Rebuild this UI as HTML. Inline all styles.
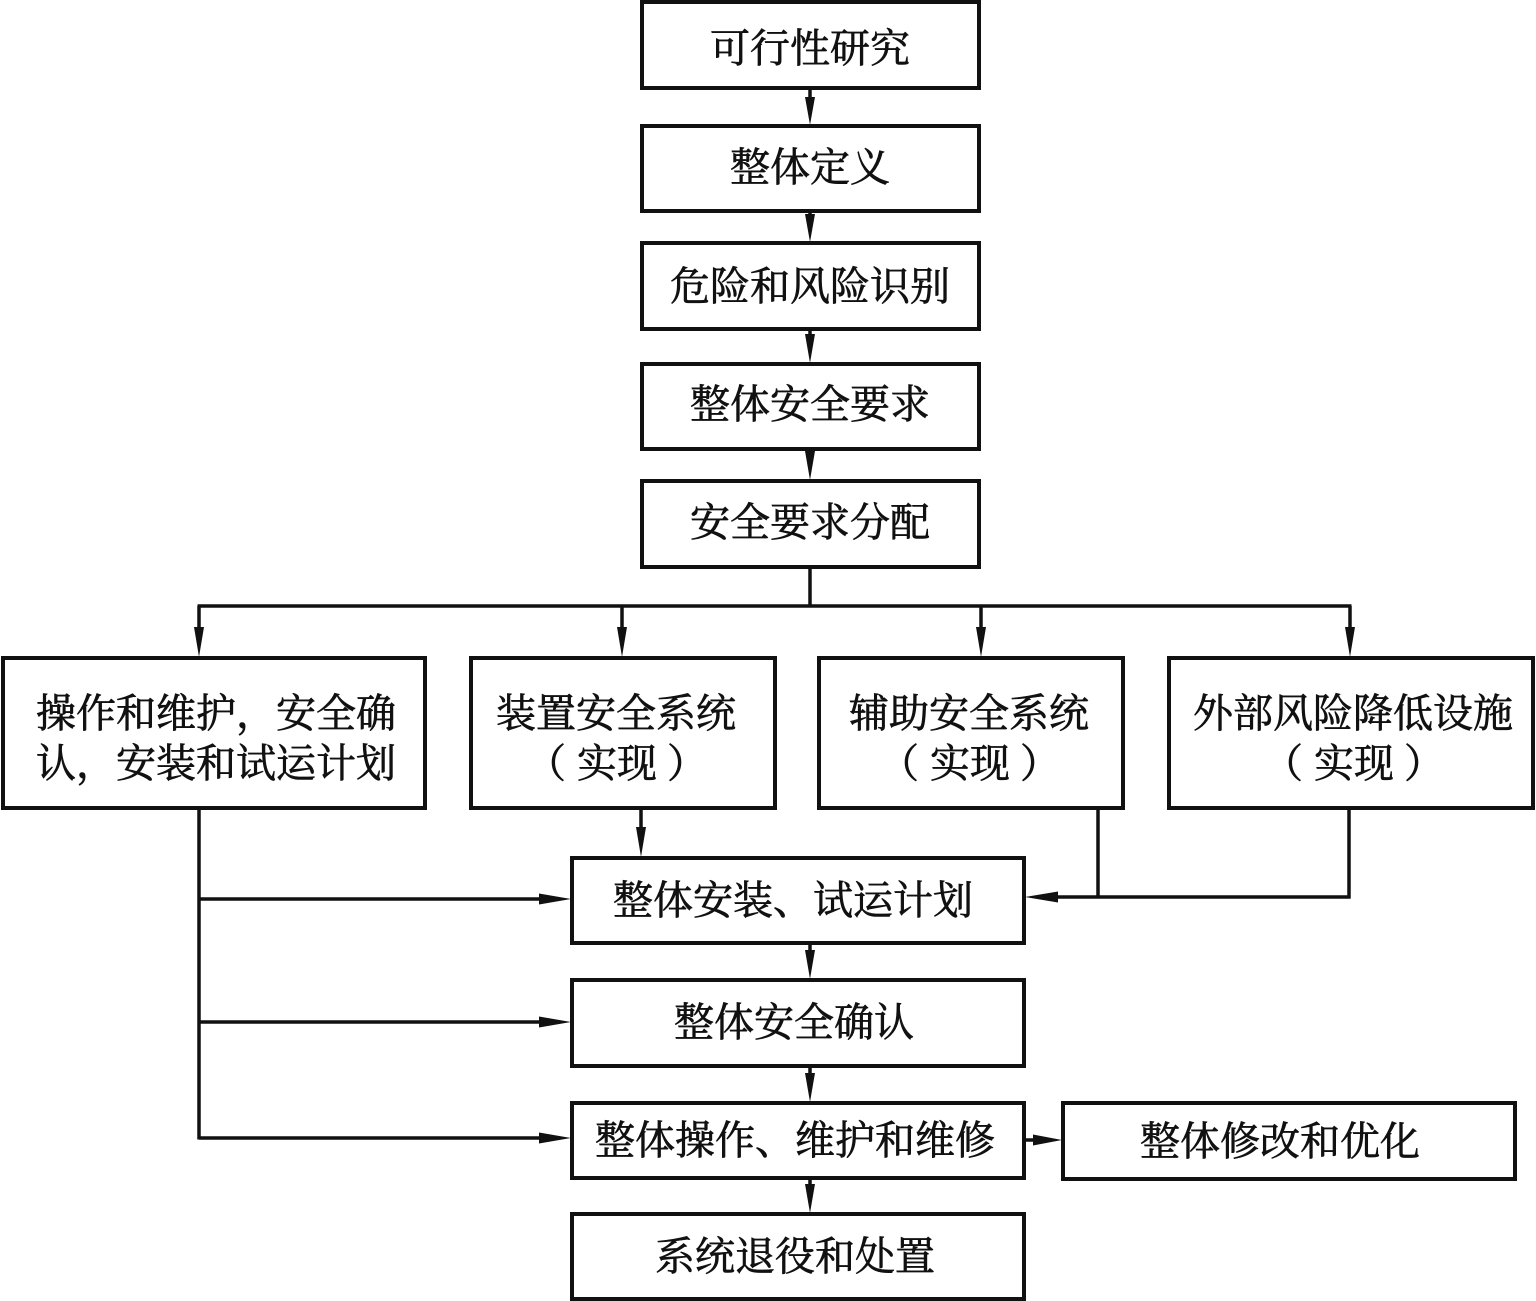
<!DOCTYPE html>
<html>
<head>
<meta charset="utf-8">
<style>
  html, body { margin: 0; padding: 0; background: #fff; }
  body { width: 1536px; height: 1301px; overflow: hidden; }
  svg { display: block; }
  text { font-family: "Liberation Serif", "Noto Serif CJK SC", "Noto Sans CJK SC", serif; font-size: 40px; fill: #111; stroke: #111; stroke-width: 0.7px; text-anchor: middle; }
  text.e { text-anchor: end; }
  text.s { text-anchor: start; }
</style>
</head>
<body>
<svg width="1536" height="1301" viewBox="0 0 1536 1301" xmlns="http://www.w3.org/2000/svg">
  <g fill="none" stroke="#111" stroke-width="4">
    <rect x="642" y="2" width="337" height="86"/>
    <rect x="642" y="126" width="337" height="85"/>
    <rect x="642" y="243" width="337" height="86"/>
    <rect x="642" y="364" width="337" height="85"/>
    <rect x="642" y="481" width="337" height="86"/>
    <rect x="3" y="658" width="422" height="150"/>
    <rect x="471" y="658" width="304" height="150"/>
    <rect x="819" y="658" width="304" height="150"/>
    <rect x="1169" y="658" width="364" height="150"/>
    <rect x="572" y="858" width="452" height="85"/>
    <rect x="572" y="980" width="452" height="86"/>
    <rect x="572" y="1103" width="452" height="75"/>
    <rect x="1063" y="1103" width="452" height="76"/>
    <rect x="572" y="1214" width="452" height="85"/>
  </g>

  <g fill="none" stroke="#111" stroke-width="3.5">
    <line x1="810" y1="88" x2="810" y2="110"/>
    <line x1="810" y1="211" x2="810" y2="228"/>
    <line x1="810" y1="329" x2="810" y2="348"/>
    <line x1="810" y1="449" x2="810" y2="466"/>
    <line x1="810" y1="567" x2="810" y2="606"/>
    <line x1="197.5" y1="606" x2="1351.5" y2="606"/>
    <line x1="199" y1="606" x2="199" y2="630"/>
    <line x1="622" y1="606" x2="622" y2="630"/>
    <line x1="981" y1="606" x2="981" y2="630"/>
    <line x1="1350" y1="606" x2="1350" y2="630"/>
    <line x1="641" y1="808" x2="641" y2="830"/>
    <line x1="199" y1="808" x2="199" y2="1139.5"/>
    <line x1="199" y1="899" x2="545" y2="899"/>
    <line x1="199" y1="1022" x2="545" y2="1022"/>
    <line x1="199" y1="1138" x2="545" y2="1138"/>
    <line x1="1098" y1="808" x2="1098" y2="897"/>
    <line x1="1349" y1="808" x2="1349" y2="898.5"/>
    <line x1="1350.5" y1="897" x2="1050" y2="897"/>
    <line x1="810" y1="943" x2="810" y2="960"/>
    <line x1="810" y1="1066" x2="810" y2="1082"/>
    <line x1="810" y1="1178" x2="810" y2="1195"/>
    <line x1="1024" y1="1140" x2="1040" y2="1140"/>
  </g>

  <g fill="#111" stroke="none">
    <polygon points="805,97 815,97 810,125"/>
    <polygon points="805,214 815,214 810,242"/>
    <polygon points="805,334 815,334 810,363"/>
    <polygon points="805,451 815,451 810,480"/>
    <polygon points="194,627 204,627 199,657"/>
    <polygon points="617,627 627,627 622,657"/>
    <polygon points="976,627 986,627 981,657"/>
    <polygon points="1345,627 1355,627 1350,657"/>
    <polygon points="636,827 646,827 641,857"/>
    <polygon points="805,950 815,950 810,979"/>
    <polygon points="805,1073 815,1073 810,1102"/>
    <polygon points="805,1184 815,1184 810,1213"/>
    <polygon points="539,893.5 539,904.5 571,899"/>
    <polygon points="539,1016.5 539,1027.5 571,1022"/>
    <polygon points="539,1132.5 539,1143.5 571,1138"/>
    <polygon points="1058,891.5 1058,902.5 1025,897"/>
    <polygon points="1033,1134.5 1033,1145.5 1062,1140"/>
  </g>

  <text x="810" y="62">可行性研究</text>
  <text x="810" y="181">整体定义</text>
  <text x="810" y="300">危险和风险识别</text>
  <text x="810" y="418">整体安全要求</text>
  <text x="810" y="536">安全要求分配</text>

  <text x="216" y="727">操作和维护，安全确</text>
  <text x="216" y="777">认，安装和试运计划</text>

  <text x="616" y="727">装置安全系统</text>
  <text class="e" x="566" y="777">（</text>
  <text x="617" y="777">实现</text>
  <text class="s" x="667" y="777">）</text>

  <text x="969" y="727">辅助安全系统</text>
  <text class="e" x="919" y="777">（</text>
  <text x="970" y="777">实现</text>
  <text class="s" x="1020" y="777">）</text>

  <text x="1353" y="727">外部风险降低设施</text>
  <text class="e" x="1303" y="777">（</text>
  <text x="1354" y="777">实现</text>
  <text class="s" x="1404" y="777">）</text>

  <text x="793" y="914">整体安装、试运计划</text>
  <text x="794" y="1036">整体安全确认</text>
  <text x="795" y="1154">整体操作、维护和维修</text>
  <text x="1280" y="1155">整体修改和优化</text>
  <text x="795" y="1270">系统退役和处置</text>
</svg>
</body>
</html>
